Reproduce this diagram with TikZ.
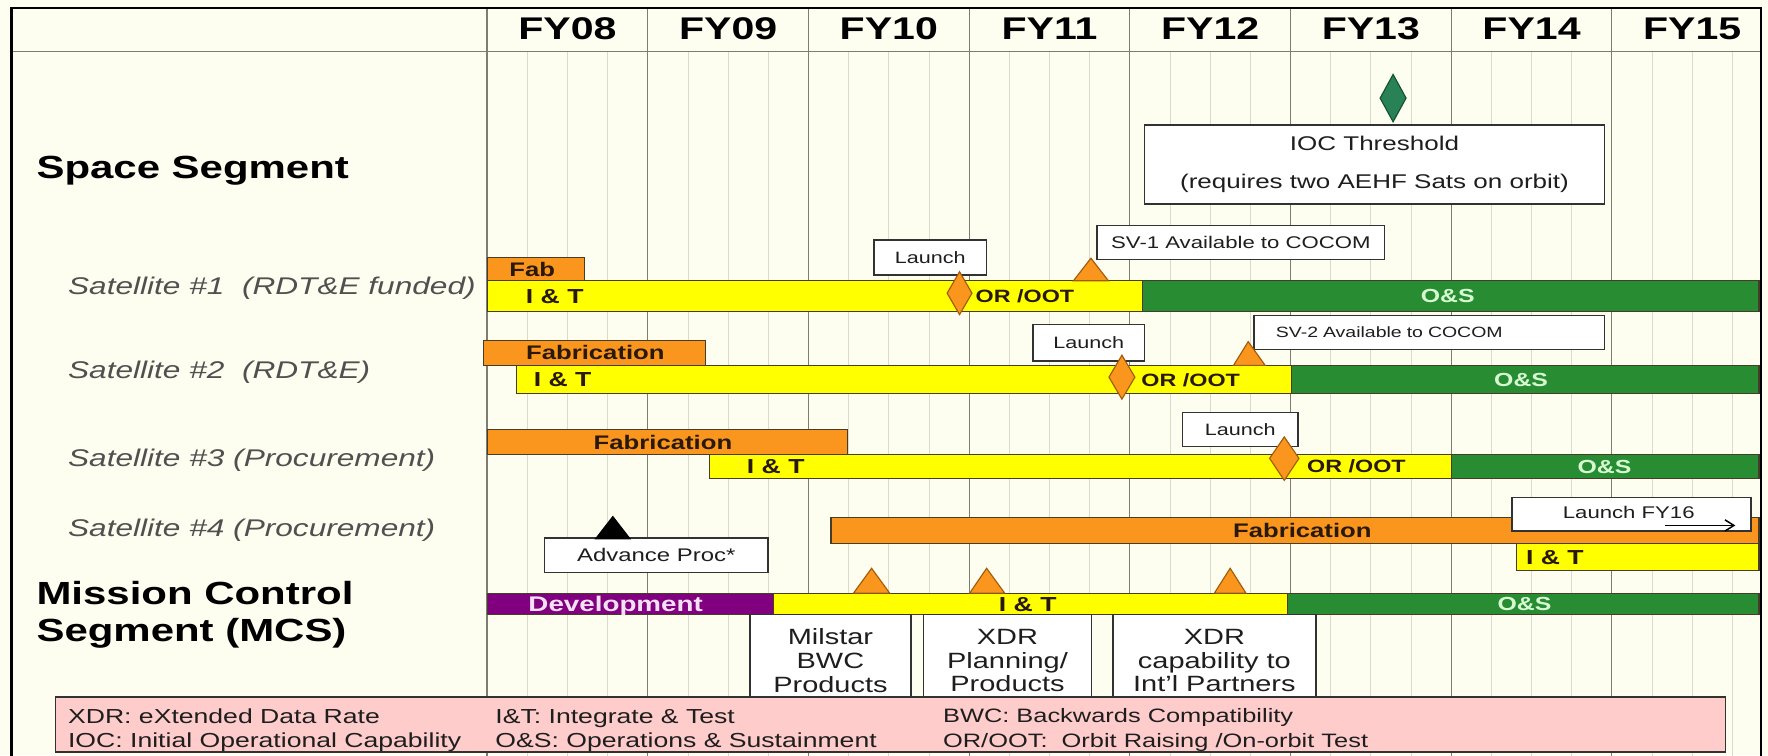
\documentclass[tikz,border=0pt]{standalone}
\usepackage{fontspec}
\setmainfont{Liberation Sans}[FakeStretch=1.31]
\usetikzlibrary{arrows.meta}

\definecolor{paper}{RGB}{253,253,240}
\definecolor{yearline}{RGB}{125,125,115}
\definecolor{quarterline}{RGB}{218,218,205}
\definecolor{barorange}{RGB}{250,150,30}
\definecolor{baryellow}{RGB}{255,255,0}
\definecolor{bargreen}{RGB}{40,140,50}
\definecolor{barpurple}{RGB}{128,0,128}
\definecolor{baredge}{RGB}{70,60,40}
\definecolor{msedge}{RGB}{160,90,10}
\definecolor{iocgreen}{RGB}{40,130,85}
\definecolor{iocedge}{RGB}{20,80,50}
\definecolor{legendpink}{RGB}{255,204,204}
\definecolor{boxedge}{RGB}{50,50,50}
\definecolor{boxtext}{RGB}{30,30,30}
\definecolor{labelgray}{RGB}{80,80,80}
\definecolor{osgreen}{RGB}{215,250,210}
\definecolor{devtext}{RGB}{245,225,245}
\definecolor{bartext}{RGB}{40,25,10}

\tikzset{
  yline/.style={draw=yearline, line width=0.55pt},
  qline/.style={draw=quarterline, line width=0.4pt},
  frameline/.style={draw=black, line width=1.1pt},
  bar/.style={draw=baredge, line width=0.5pt},
  fabbar/.style={bar, fill=barorange},
  itbar/.style={bar, fill=baryellow},
  osbar/.style={bar, fill=bargreen},
  devbar/.style={bar, fill=barpurple},
  milestone/.style={draw=msedge, fill=barorange, line width=0.5pt},
  ioc mark/.style={draw=iocedge, fill=iocgreen, line width=0.5pt},
  callout/.style={draw=boxedge, fill=white, line width=0.6pt, inner sep=0pt,
    text=boxtext, font=\fontsize{7.3}{8}\selectfont, text height=5.2pt, text depth=0pt},
  fy/.style={font=\fontsize{13.9}{15}\selectfont\bfseries, inner sep=0pt,
    text height=9.95pt, text depth=0pt},
  seg/.style={font=\fontsize{14.2}{16}\selectfont\bfseries, inner sep=0pt, anchor=base west},
  sat/.style={font=\fontsize{10.7}{12}\selectfont\itshape, text=labelgray, inner sep=0pt, anchor=base west},
  barlbl/.style={font=\fontsize{8.7}{9}\selectfont\bfseries, inner sep=0pt,
    text height=6.2pt, text depth=0pt, text=bartext},
  itlbl/.style={barlbl, font=\fontsize{9}{9}\selectfont\bfseries, text height=6.4pt},
  orlbl/.style={barlbl, font=\fontsize{7.9}{9}\selectfont\bfseries, text height=5.6pt},
  oslbl/.style={barlbl, font=\fontsize{8.4}{9}\selectfont\bfseries, text height=6pt, text=osgreen},
  devlbl/.style={barlbl, font=\fontsize{9.4}{10}\selectfont\bfseries, text height=6.7pt, text=devtext},
  mcsbox/.style={draw=boxedge, fill=white, line width=0.6pt, inner sep=0pt},
  mcstext/.style={font=\fontsize{9.8}{10.5}\selectfont, text=boxtext, align=center, inner sep=0pt},
  legendbox/.style={draw=boxedge, fill=legendpink, line width=0.6pt, inner sep=0pt},
  legendtext/.style={font=\fontsize{9}{10}\selectfont, text=boxtext, anchor=west, inner sep=0pt,
    text height=6.5pt, text depth=0pt},
  legendnarrow/.style={legendtext, font=\fontsize{8.6}{10}\selectfont, text height=6.2pt}
}

\begin{document}
\begin{tikzpicture}[x=0.5pt, y=-0.5pt]
\useasboundingbox (0,0) rectangle (1568,670);
\fill[paper] (0,0) rectangle (1568,670);

% quarter grid
\foreach \k in {0,...,7}{
  \foreach \q in {1,2,3}{
    \draw[qline] ({432+142.5*\k+35.625*\q},46) -- ({432+142.5*\k+35.625*\q},672);
  }
}
% fiscal-year grid
\foreach \k in {0,...,7}{
  \draw[yline] ({432+142.5*\k},7) -- ({432+142.5*\k},672);
}
\draw[yline] (10,46) -- (1562,46);
\draw[frameline] (10,672) -- (10,7) -- (1562,7) -- (1562,672);

% year headings
\foreach \k/\yr in {0/08,1/09,2/10,3/11,4/12,5/13,6/14,7/15}{
  \node[fy] (fy\yr) at ({432+142.5*(\k+0.5)},25) {FY\yr};
}

% row labels
\node[seg] (space) at (32,158.5) {Space Segment};
\node[sat] (sat1) at (60,261.6) {Satellite \#1\ \ (RDT\&E funded)};
\node[sat] (sat2) at (60,335.5) {Satellite \#2\ \ (RDT\&E)};
\node[sat] (sat3) at (60,413.9) {Satellite \#3 (Procurement)};
\node[sat] (sat4) at (60,475.4) {Satellite \#4 (Procurement)};
\node[seg] (mcsA) at (32,536) {Mission Control};
\node[seg] (mcsB) at (32,569) {Segment (MCS)};

% Satellite 1
\draw[fabbar] (432,228) rectangle (518,249);
\draw[itbar] (432,249) rectangle (1013,276);
\draw[osbar] (1013,249) rectangle (1560,276);
% Satellite 2
\draw[fabbar] (429,302) rectangle (626,324);
\draw[itbar] (458,324) rectangle (1145,349);
\draw[osbar] (1145,324) rectangle (1560,349);
% Satellite 3
\draw[fabbar] (432,381) rectangle (752,403);
\draw[itbar] (629,403) rectangle (1287,424);
\draw[osbar] (1287,403) rectangle (1560,424);
% Satellite 4
\draw[fabbar] (737,459) rectangle (1560,482);
\draw[itbar] (1345,482) rectangle (1560,506);
% Mission control segment
\draw[devbar] (432,526) rectangle (686,545);
\draw[itbar] (686,526) rectangle (1142,545);
\draw[osbar] (1142,526) rectangle (1560,545);

% bar captions
\node[barlbl] (fab1) at (472,239) {Fab};
\node[itlbl] (it1) at (492,262.5) {I \& T};
\node[orlbl] (or1) at (909,262.5) {OR /OOT};
\node[oslbl] (os1) at (1284,262.5) {O\&S};
\node[barlbl] (fab2) at (528,313) {Fabrication};
\node[itlbl] (it2) at (499,336.5) {I \& T};
\node[orlbl] (or2) at (1056,337) {OR /OOT};
\node[oslbl] (os2) at (1349,336.5) {O\&S};
\node[barlbl] (fab3) at (588,392) {Fabrication};
\node[itlbl] (it3) at (688,413.5) {I \& T};
\node[orlbl] (or3) at (1203,413.5) {OR /OOT};
\node[oslbl] (os3) at (1423,413.5) {O\&S};
\node[barlbl] (fab4) at (1155,470.5) {Fabrication};
\node[itlbl] (it4) at (1379,494) {I \& T};
\node[devlbl] (dev) at (546,535.5) {Development};
\node[itlbl] (itm) at (911.5,535.5) {I \& T};
\node[oslbl] (osm) at (1352,535.5) {O\&S};

% call-out boxes
\node[callout, font=\fontsize{8.8}{17}\selectfont, text height=, text depth=, align=center,
      minimum width=204pt, minimum height=35pt] (ioc) at (1219,146)
      {IOC Threshold\\(requires two AEHF Sats on orbit)};
\node[callout, font=\fontsize{7.5}{8}\selectfont, minimum width=127.5pt, minimum height=15pt]
      (sv1) at (1100.5,215) {SV-1 Available to COCOM};
\node[callout, minimum width=50pt, minimum height=15.5pt] (launch1) at (825,228.5) {Launch};
\node[callout, font=\fontsize{6.6}{8}\selectfont, text height=4.7pt, align=left,
      text width=136pt, inner xsep=9.5pt, minimum width=155.5pt, minimum height=15pt]
      (sv2) at (1267.5,295) {SV-2 Available to COCOM};
\node[callout, minimum width=49.5pt, minimum height=16pt] (launch2) at (965.5,304) {Launch};
\node[callout, minimum width=51pt, minimum height=15pt] (launch3) at (1100,381) {Launch};
\node[callout, font=\fontsize{8.1}{9}\selectfont, text height=5.8pt, minimum width=99pt,
      minimum height=15.5pt] (adv) at (582,492.5) {Advance Proc*};
\node[callout, minimum width=106pt, minimum height=15pt] (fy16box) at (1447,456) {};
\node[inner sep=0pt, font=\fontsize{7.5}{8}\selectfont, text=boxtext, text height=5.4pt,
      text depth=0pt] (fy16txt) at (1444.5,454.5) {Launch FY16};
\coordinate (fy16from) at (1477,466);
\coordinate (fy16to) at (1539,466);
\draw[black, line width=0.65pt, -{Straight Barb[length=4pt,width=5pt]}] (fy16from) -- (fy16to);

% milestones
\draw[ioc mark] (1235.5,66) -- (1247,87) -- (1235.5,108) -- (1224,87) -- cycle;
\draw[milestone] (851,241) -- (862,260) -- (851,279) -- (840,260) -- cycle;
\draw[milestone] (995,315) -- (1006.5,334.5) -- (995,354) -- (983.5,334.5) -- cycle;
\draw[milestone] (1139,387.5) -- (1152,406.5) -- (1139,426) -- (1126,406.5) -- cycle;
\draw[milestone] (952,249) -- (967.5,229) -- (983,249) -- cycle;
\draw[milestone] (1094,324) -- (1107,303) -- (1122,324) -- cycle;
\draw[milestone] (757,526) -- (773,504) -- (789,526) -- cycle;
\draw[milestone] (860,526) -- (875,504) -- (891,526) -- cycle;
\draw[milestone] (1077,526) -- (1091,504) -- (1105,526) -- cycle;
\draw[draw=black, fill=black] (528,478) -- (543.5,458) -- (559,478) -- cycle;

% MCS product boxes
\node[mcsbox, minimum width=71.5pt, minimum height=36.5pt] (milbox) at (736.5,581.5) {};
\node[mcsbox, minimum width=74.5pt, minimum height=36.5pt] (planbox) at (893.5,581.5) {};
\node[mcsbox, minimum width=90pt, minimum height=36.5pt] (capbox) at (1077,581.5) {};
\node[mcstext] (miltxt) at (736.5,586) {Milstar\\BWC\\Products};
\node[mcstext] (plantxt) at (893.5,586) {XDR\\Planning/\\Products};
\node[mcstext] (captxt) at (1077,586) {XDR\\capability to\\Int'l Partners};

% legend
\node[legendbox, minimum width=740.5pt, minimum height=24.5pt] (legend) at (789.5,642.5) {};
\node[legendtext] (lgA) at (60,635) {XDR: eXtended Data Rate};
\node[legendtext] (lgB) at (60,656.5) {IOC: Initial Operational Capability};
\node[legendtext] (lgC) at (439,635) {I\&T: Integrate \& Test};
\node[legendtext] (lgD) at (439,656.5) {O\&S: Operations \& Sustainment};
\node[legendnarrow] (lgE) at (836,635) {BWC: Backwards Compatibility};
\node[legendnarrow] (lgF) at (836,656.5) {OR/OOT:\ \ Orbit Raising /On-orbit Test};
\end{tikzpicture}
\end{document}
